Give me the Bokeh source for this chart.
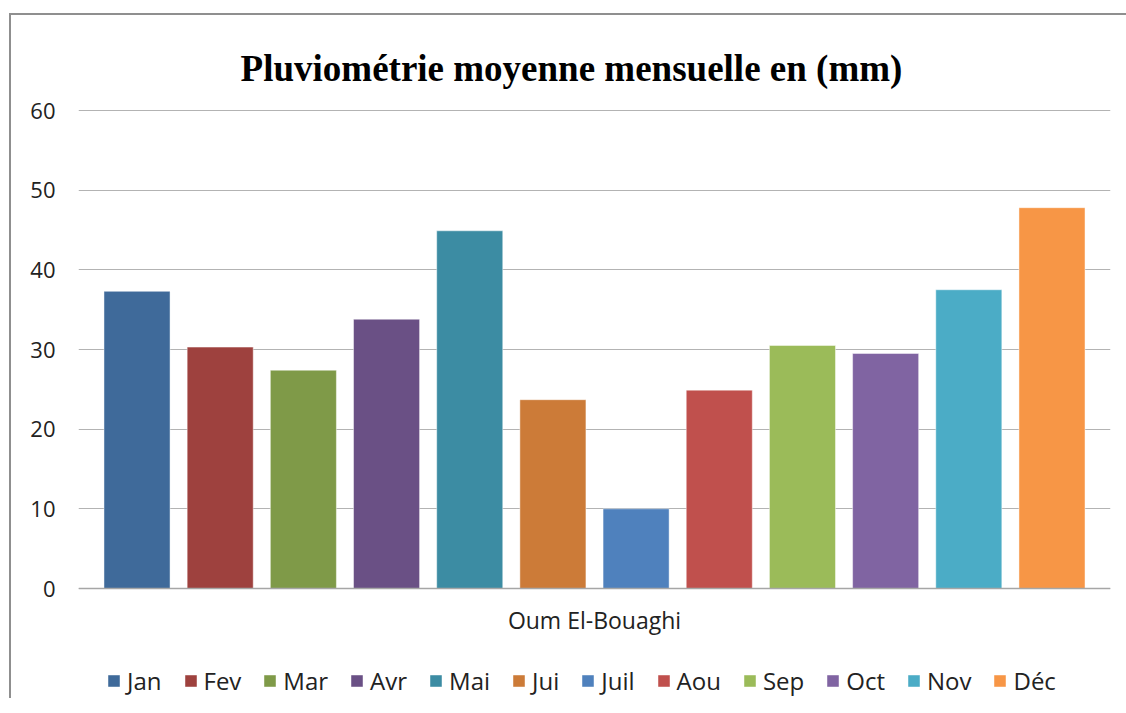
from bokeh.plotting import figure
from bokeh.models import ColumnDataSource, FactorRange, Range1d, Legend, LegendItem, Label
from bokeh.transform import dodge
from bokeh.embed import file_html
from bokeh.resources import INLINE

station = "Oum El-Bouaghi"
chart_title = "Pluviométrie moyenne mensuelle en (mm)"
months = ["Jan", "Fev", "Mar", "Avr", "Mai", "Jui", "Juil", "Aou", "Sep", "Oct", "Nov", "Déc"]
values = [37.3, 30.3, 27.4, 33.8, 44.9, 23.7, 10.0, 24.9, 30.5, 29.5, 37.5, 47.8]
colors = ["#3f6a9a", "#9e413e", "#7f9a48", "#6a5085", "#3c8ca3", "#cc7b38",
          "#4f81bd", "#c0504d", "#9bbb59", "#8064a2", "#4bacc6", "#f79646"]
y_ticks = [0, 10, 20, 30, 40, 50, 60]

FONT = "Open Sans"
TXT = "#222222"

# frame spans the whole chart box; value axis 0..60 sits inside it
p = figure(frame_width=1032, frame_height=683, output_backend="svg", toolbar_location=None,
           x_range=FactorRange(factors=[station], range_padding=0),
           y_range=Range1d(-13.807, 71.925),
           min_border_left=67, min_border_right=16, min_border_top=0, min_border_bottom=0,
           title=None)
p.styles = {"border-top": "2px solid #8f8f8f", "border-left": "2px solid #8f8f8f",
            "margin-top": "13px", "margin-left": "9px"}

p.outline_line_color = None
p.background_fill_color = "white"
p.border_fill_color = "white"

step = 0.0806
bar_w = 0.064
items = []
for i, (m, v, c) in enumerate(zip(months, values, colors)):
    src = ColumnDataSource(data=dict(cat=[station], top=[v]))
    r = p.vbar(x=dodge("cat", (i - 5.5) * step, range=p.x_range), top="top", width=bar_w,
               bottom=0, source=src, fill_color=c, line_color="white", line_alpha=0.45,
               line_width=1)
    items.append(LegendItem(label=m, renderers=[r]))

p.yaxis.ticker = y_ticks
p.yaxis.axis_line_color = None
p.yaxis.major_tick_line_color = None
p.yaxis.minor_tick_line_color = None
p.yaxis.major_tick_out = 0
p.yaxis.major_label_standoff = 23
p.yaxis.major_label_text_font = FONT
p.yaxis.major_label_text_font_size = "22px"
p.yaxis.major_label_text_color = TXT

p.xaxis.fixed_location = 0
p.xaxis.axis_line_color = "#a6a6a6"
p.xaxis.axis_line_width = 1.5
p.xaxis.major_tick_line_color = None
p.xaxis.minor_tick_line_color = None
p.xaxis.major_tick_out = 0
p.xaxis.major_tick_in = 0
p.xaxis.major_label_standoff = 15
p.xaxis.major_label_text_font = FONT
p.xaxis.major_label_text_font_size = "23px"
p.xaxis.major_label_text_color = TXT

p.xgrid.visible = False
p.ygrid.grid_line_color = "#b3b3b3"
p.ygrid.grid_line_width = 1.2

title = Label(x=0.4777, y=65.27, text=chart_title, text_align="center",
              text_baseline="alphabetic", text_font="Liberation Serif",
              text_font_style="bold", text_font_size="37px", text_color="black")
p.add_layout(title)

legend = Legend(items=items, orientation="horizontal", location=(28, 1), nrows=1,
                glyph_width=15, glyph_height=15, label_standoff=6, spacing=21,
                padding=0, margin=0, border_line_color=None, background_fill_alpha=0,
                label_text_font=FONT, label_text_font_size="24px", label_text_color=TXT)
p.add_layout(legend, "center")

open("out.html", "w").write(file_html(p, INLINE))
